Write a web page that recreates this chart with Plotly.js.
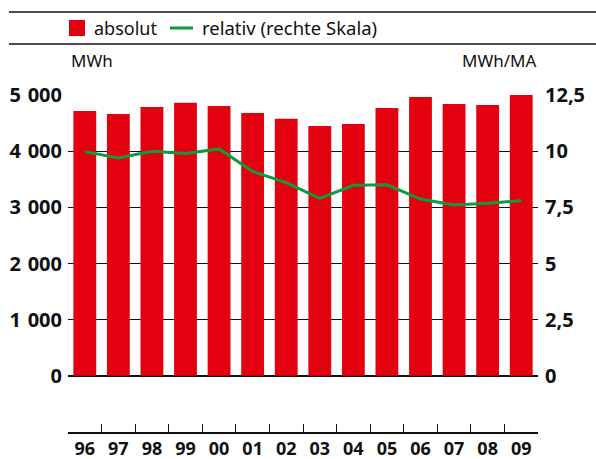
<!DOCTYPE html>
<html><head><meta charset="utf-8">
<script src="https://cdn.plot.ly/plotly-3.0.1.min.js"></script>
<style>html,body{margin:0;padding:0;background:#fff}#c{width:596px;height:459px}</style>
</head><body><div id="c"></div>
<script>
var years = ["96","97","98","99","00","01","02","03","04","05","06","07","08","09"];
var absolut = [4715,4660,4785,4860,4805,4680,4575,4450,4485,4770,4965,4840,4820,5000];
var relativ = [9.98,9.7,10.0,9.9,10.1,9.1,8.6,7.9,8.48,8.5,7.87,7.6,7.68,7.8];
var leftTicks = [0,1000,2000,3000,4000,5000];
var leftLabels = ["0","1\u2009\u2009000","2\u2009\u2009000","3\u2009\u2009000","4\u2009\u2009000","5\u2009\u2009000"];
var rightTicks = [0,2.5,5,7.5,10,12.5];
var rightLabels = ["0","2,5","5","7,5","10","12,5"];

var FONT = "Noto Sans, DejaVu Sans, sans-serif";
var RED = "#e3000f", GREEN = "#0f9a40";

var traces = [
  {type:"bar", x:years, y:absolut, name:"absolut", marker:{color:RED}, width:0.68, yaxis:"y", showlegend:false, hoverinfo:"skip"},
  {type:"scatter", mode:"lines", x:years, y:relativ, name:"relativ (rechte Skala)", line:{color:GREEN, width:3}, yaxis:"y2", showlegend:false, hoverinfo:"skip"}
];

var TF = {family:FONT, size:20, weight:"bold", color:"#111"};
var layout = {
  width:596, height:459,
  margin:{l:68, r:58, t:95, b:27, pad:0},
  paper_bgcolor:"#fff", plot_bgcolor:"#fff",
  font:{family:FONT, color:"#111"},
  showlegend:false,
  xaxis:{type:"category", showgrid:false, zeroline:false, showline:true, linecolor:"#111", linewidth:1.5,
         ticks:"inside", ticklen:8, tickwidth:1, tickcolor:"#111", tickson:"boundaries",
         tickfont:{family:FONT, size:18, weight:"bold", color:"#111"}, fixedrange:true},
  yaxis:{range:[-1000,5000], tickvals:leftTicks, ticktext:leftLabels, showgrid:true, gridcolor:"#111", gridwidth:1,
         zeroline:true, zerolinecolor:"#111", zerolinewidth:2.5, showline:false, ticks:"",
         ticklabelstandoff:5, tickfont:TF},
  yaxis2:{range:[-2.5,12.5], overlaying:"y", side:"right", tickvals:rightTicks, ticktext:rightLabels,
          showgrid:false, zeroline:false, showline:false, ticks:"", ticklabelstandoff:6,
          tickfont:TF},
  shapes:[
    {type:"line", xref:"paper", yref:"paper", x0:(9-68)/470, x1:1.2, y0:1+(95-12)/337, y1:1+(95-12)/337, line:{color:"#111", width:1.5}},
    {type:"line", xref:"paper", yref:"paper", x0:(9-68)/470, x1:1.2, y0:1+(95-44)/337, y1:1+(95-44)/337, line:{color:"#111", width:1.5}},
    {type:"rect", xref:"paper", yref:"paper", x0:(69-68)/470, x1:(85-68)/470, y0:1+(95-36)/337, y1:1+(95-20)/337, fillcolor:RED, line:{width:0}},
    {type:"line", xref:"paper", yref:"paper", x0:(170-68)/470, x1:(193-68)/470, y0:1+(95-28)/337, y1:1+(95-28)/337, line:{color:GREEN, width:3}}
  ],
  annotations:[
    {xref:"paper", yref:"paper", x:(92-68)/470, y:1+(95-28)/337, xanchor:"left", yanchor:"middle", text:"absolut", showarrow:false, font:{family:FONT, size:18, color:"#111"}},
    {xref:"paper", yref:"paper", x:(200-68)/470, y:1+(95-28)/337, xanchor:"left", yanchor:"middle", text:"relativ (rechte Skala)", showarrow:false, font:{family:FONT, size:18.5, color:"#111"}},
    {xref:"paper", yref:"paper", x:(69-68)/470, y:1+(95-60)/337, xanchor:"left", yanchor:"middle", text:"MWh", showarrow:false, font:{family:FONT, size:17, color:"#111"}},
    {xref:"paper", yref:"paper", x:1, y:1+(95-60)/337, xanchor:"right", yanchor:"middle", text:"MWh/MA", showarrow:false, font:{family:FONT, size:17, color:"#111"}}
  ]
};
Plotly.newPlot("c", traces, layout, {displayModeBar:false, staticPlot:true});
</script></body></html>
